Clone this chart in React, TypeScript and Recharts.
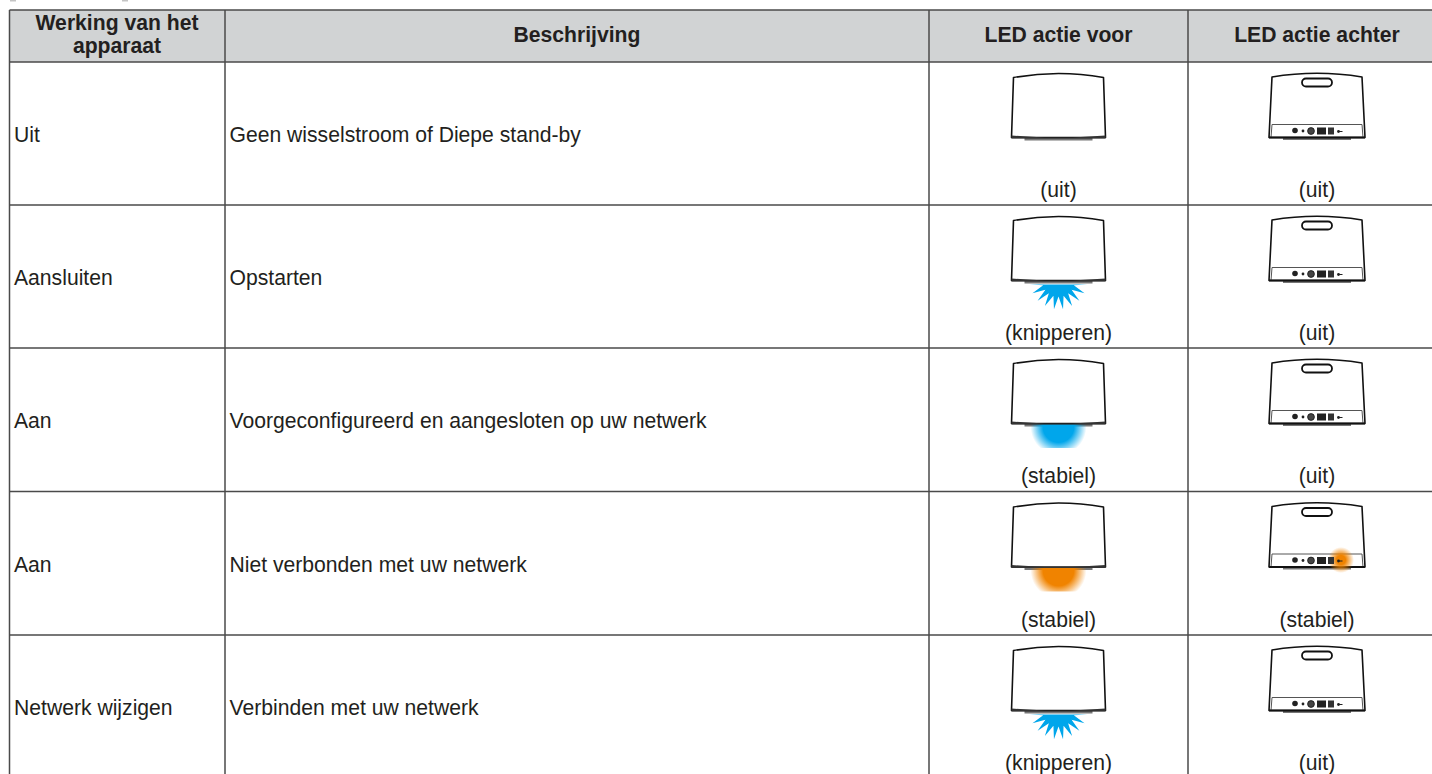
import React from 'react';
import { ScatterChart, Scatter, XAxis, YAxis, ReferenceLine, ReferenceArea } from 'recharts';

const headers = ['Werking van het|apparaat', 'Beschrijving', 'LED actie voor', 'LED actie achter'];
const modes = ['Uit', 'Aansluiten', 'Aan', 'Aan', 'Netwerk wijzigen'];
const descriptions = [
  'Geen wisselstroom of Diepe stand-by',
  'Opstarten',
  'Voorgeconfigureerd en aangesloten op uw netwerk',
  'Niet verbonden met uw netwerk',
  'Verbinden met uw netwerk',
];
const frontStates = ['uit', 'knipperen', 'stabiel', 'stabiel', 'knipperen'];
const backStates = ['uit', 'uit', 'uit', 'stabiel', 'uit'];
const frontColors = ['none', 'blue', 'blue', 'orange', 'blue'];

const WIDTH = 1432;
const HEIGHT = 774;
const FONT = '"Liberation Sans", Arial, sans-serif';
const TEXT = '#231f20';
const RULE = '#4a4a4a';
const LED: Record<string, string> = { blue: '#00a6eb', orange: '#f08300' };

// table layout, in axis units
const colEdges = [9.5, 225, 929, 1188, 1432];
const rowEdges = [10, 62, 205, 348, 491.5, 635, 774];
const bodyRows = rowEdges.slice(1, 6);
const colCenter = [117, 577, 1058.5, 1317];
// remains of the cut-off heading above the table
const clippedHeading = [[10, 16], [122, 128]];

const headerCells = headers.map((label, i) => ({ x: colCenter[i], y: 34, label }));
const modeCells = modes.map((label, i) => ({ x: colEdges[0] + 4.5, y: bodyRows[i] + 72.5, label }));
const descCells = descriptions.map((label, i) => ({ x: colEdges[1] + 4.5, y: bodyRows[i] + 72.5, label }));
const frontStateCells = frontStates.map((s, i) => ({ x: colCenter[2], y: bodyRows[i] + 127.5, label: `(${s})` }));
const backStateCells = backStates.map((s, i) => ({ x: colCenter[3], y: bodyRows[i] + 127.5, label: `(${s})` }));
const frontUnits = frontStates.map((s, i) => ({ x: colCenter[2], y: bodyRows[i] + 11.5, state: s, color: frontColors[i] }));
const backUnits = backStates.map((s, i) => ({ x: colCenter[3], y: bodyRows[i] + 11.5, state: s }));

const TextCell = ({ cx, cy, payload, anchor, bold }: any) => {
  const lines: string[] = payload.label.split('|');
  const start = cy - ((lines.length - 1) * 23) / 2;
  return (
    <g>
      {lines.map((line, i) => (
        <text
          key={i}
          x={cx}
          y={start + i * 23}
          textAnchor={anchor}
          dominantBaseline="central"
          fontFamily={FONT}
          fontSize={21.15}
          fontWeight={bold ? 700 : 400}
          fill={TEXT}
        >
          {line}
        </text>
      ))}
    </g>
  );
};

const starPoints = () => {
  const tips = [-82, -64, -46, -28, -9, 9, 28, 46, 64, 82];
  const pts: string[] = [];
  tips.forEach((deg, i) => {
    const a = (deg * Math.PI) / 180;
    pts.push(`${29 * Math.sin(a)},${64 + 29 * Math.cos(a)}`);
    if (i < tips.length - 1) {
      const b = ((deg + tips[i + 1]) / 2) * (Math.PI / 180);
      pts.push(`${16 * Math.sin(b)},${64 + 16 * Math.cos(b)}`);
    }
  });
  return pts.join(' ');
};

const FrontUnit = ({ cx, cy, payload, index }: any) => {
  const { state, color } = payload;
  const id = `front-glow-${index}`;
  return (
    <g transform={`translate(${cx},${cy})`}>
      <defs>
        <radialGradient id={id}>
          <stop offset="0.55" stopColor={LED[color] ?? '#fff'} />
          <stop offset="1" stopColor={LED[color] ?? '#fff'} stopOpacity={0} />
        </radialGradient>
        <clipPath id={`${id}-clip`}>
          <rect x={-40} y={40} width={80} height={48.5} />
        </clipPath>
      </defs>
      <rect x={-34} y={64} width={68} height={3} fill="#777" />
      {state === 'knipperen' && <polygon points={starPoints()} fill={LED[color]} />}
      {state === 'stabiel' && <circle cx={0} cy={67.5} r={28} fill={`url(#${id})`} clipPath={`url(#${id}-clip)`} />}
      <path d="M-45,4 Q0,-4 45,4 L47,64 L-47,64 Z" fill="#fff" stroke="#111" strokeWidth={1.6} strokeLinejoin="round" />
      <path d="M-47,62 L-14,64 L14,64 L47,62 L47,65 L-47,65 Z" fill="#333" />
    </g>
  );
};

const BackUnit = ({ cx, cy, payload, index }: any) => {
  const id = `back-glow-${index}`;
  return (
    <g transform={`translate(${cx},${cy})`}>
      <defs>
        <radialGradient id={id}>
          <stop offset="0.35" stopColor={LED.orange} />
          <stop offset="1" stopColor={LED.orange} stopOpacity={0} />
        </radialGradient>
      </defs>
      <rect x={-34} y={64} width={68} height={2.5} fill="#777" />
      <path d="M-45,3.5 Q0,-4 45,3.5 L48,64 L-48,64 Z" fill="#fff" stroke="#111" strokeWidth={1.6} strokeLinejoin="round" />
      <rect x={-15} y={5} width={30} height={8} rx={4} fill="#fff" stroke="#111" strokeWidth={1.8} />
      <path d="M-45,51 L45,51 M-45,51 L-46,64 M45,51 L46,64" fill="none" stroke="#555" strokeWidth={1} />
      <line x1={-48} x2={48} y1={64} y2={64} stroke="#111" strokeWidth={1.8} />
      {payload.state === 'stabiel' && <circle cx={24} cy={57} r={13} fill={`url(#${id})`} />}
      <circle cx={-22} cy={57} r={2.8} fill="#222" />
      <circle cx={-14} cy={57.5} r={1.4} fill="#222" />
      <circle cx={-6} cy={57.5} r={3.4} fill="#444" stroke="#111" strokeWidth={0.8} />
      <rect x={0} y={54} width={9} height={7} fill="#222" />
      <rect x={11} y={54} width={6} height={7} fill="#333" />
      <circle cx={21.5} cy={58} r={1.4} fill="#222" />
      <line x1={21.5} x2={25.5} y1={58} y2={58} stroke="#222" strokeWidth={1} />
    </g>
  );
};

export default function App() {
  return (
    <div style={{ position: 'absolute', left: 0, top: 0, width: WIDTH, height: HEIGHT, overflow: 'hidden', background: '#fff' }}>
      <ScatterChart width={WIDTH} height={HEIGHT} margin={{ top: 0, right: 0, bottom: 0, left: 0 }}>
        <XAxis type="number" dataKey="x" domain={[0, WIDTH]} hide />
        <YAxis type="number" dataKey="y" domain={[0, HEIGHT]} reversed hide />
        {clippedHeading.map(([x1, x2]) => (
          <ReferenceArea key={x1} x1={x1} x2={x2} y1={0} y2={1.5} fill="#c4c4c4" fillOpacity={1} stroke="none" />
        ))}
        <ReferenceArea x1={colEdges[0]} x2={WIDTH} y1={rowEdges[0]} y2={rowEdges[1]} fill="#d1d3d4" fillOpacity={1} stroke="none" />
        {rowEdges.slice(0, 6).map((y) => (
          <ReferenceLine
            key={`r${y}`}
            segment={[{ x: colEdges[0], y }, { x: WIDTH, y }]}
            stroke={RULE}
            strokeWidth={1.5}
          />
        ))}
        {colEdges.slice(0, 4).map((x) => (
          <ReferenceLine
            key={`c${x}`}
            segment={[{ x, y: rowEdges[0] }, { x, y: HEIGHT }]}
            stroke={RULE}
            strokeWidth={1.5}
          />
        ))}
        <Scatter data={frontUnits} isAnimationActive={false} shape={<FrontUnit />} />
        <Scatter data={backUnits} isAnimationActive={false} shape={<BackUnit />} />
        <Scatter data={headerCells} isAnimationActive={false} shape={<TextCell anchor="middle" bold />} />
        <Scatter data={modeCells} isAnimationActive={false} shape={<TextCell anchor="start" />} />
        <Scatter data={descCells} isAnimationActive={false} shape={<TextCell anchor="start" />} />
        <Scatter data={frontStateCells} isAnimationActive={false} shape={<TextCell anchor="middle" />} />
        <Scatter data={backStateCells} isAnimationActive={false} shape={<TextCell anchor="middle" />} />
      </ScatterChart>
    </div>
  );
}
